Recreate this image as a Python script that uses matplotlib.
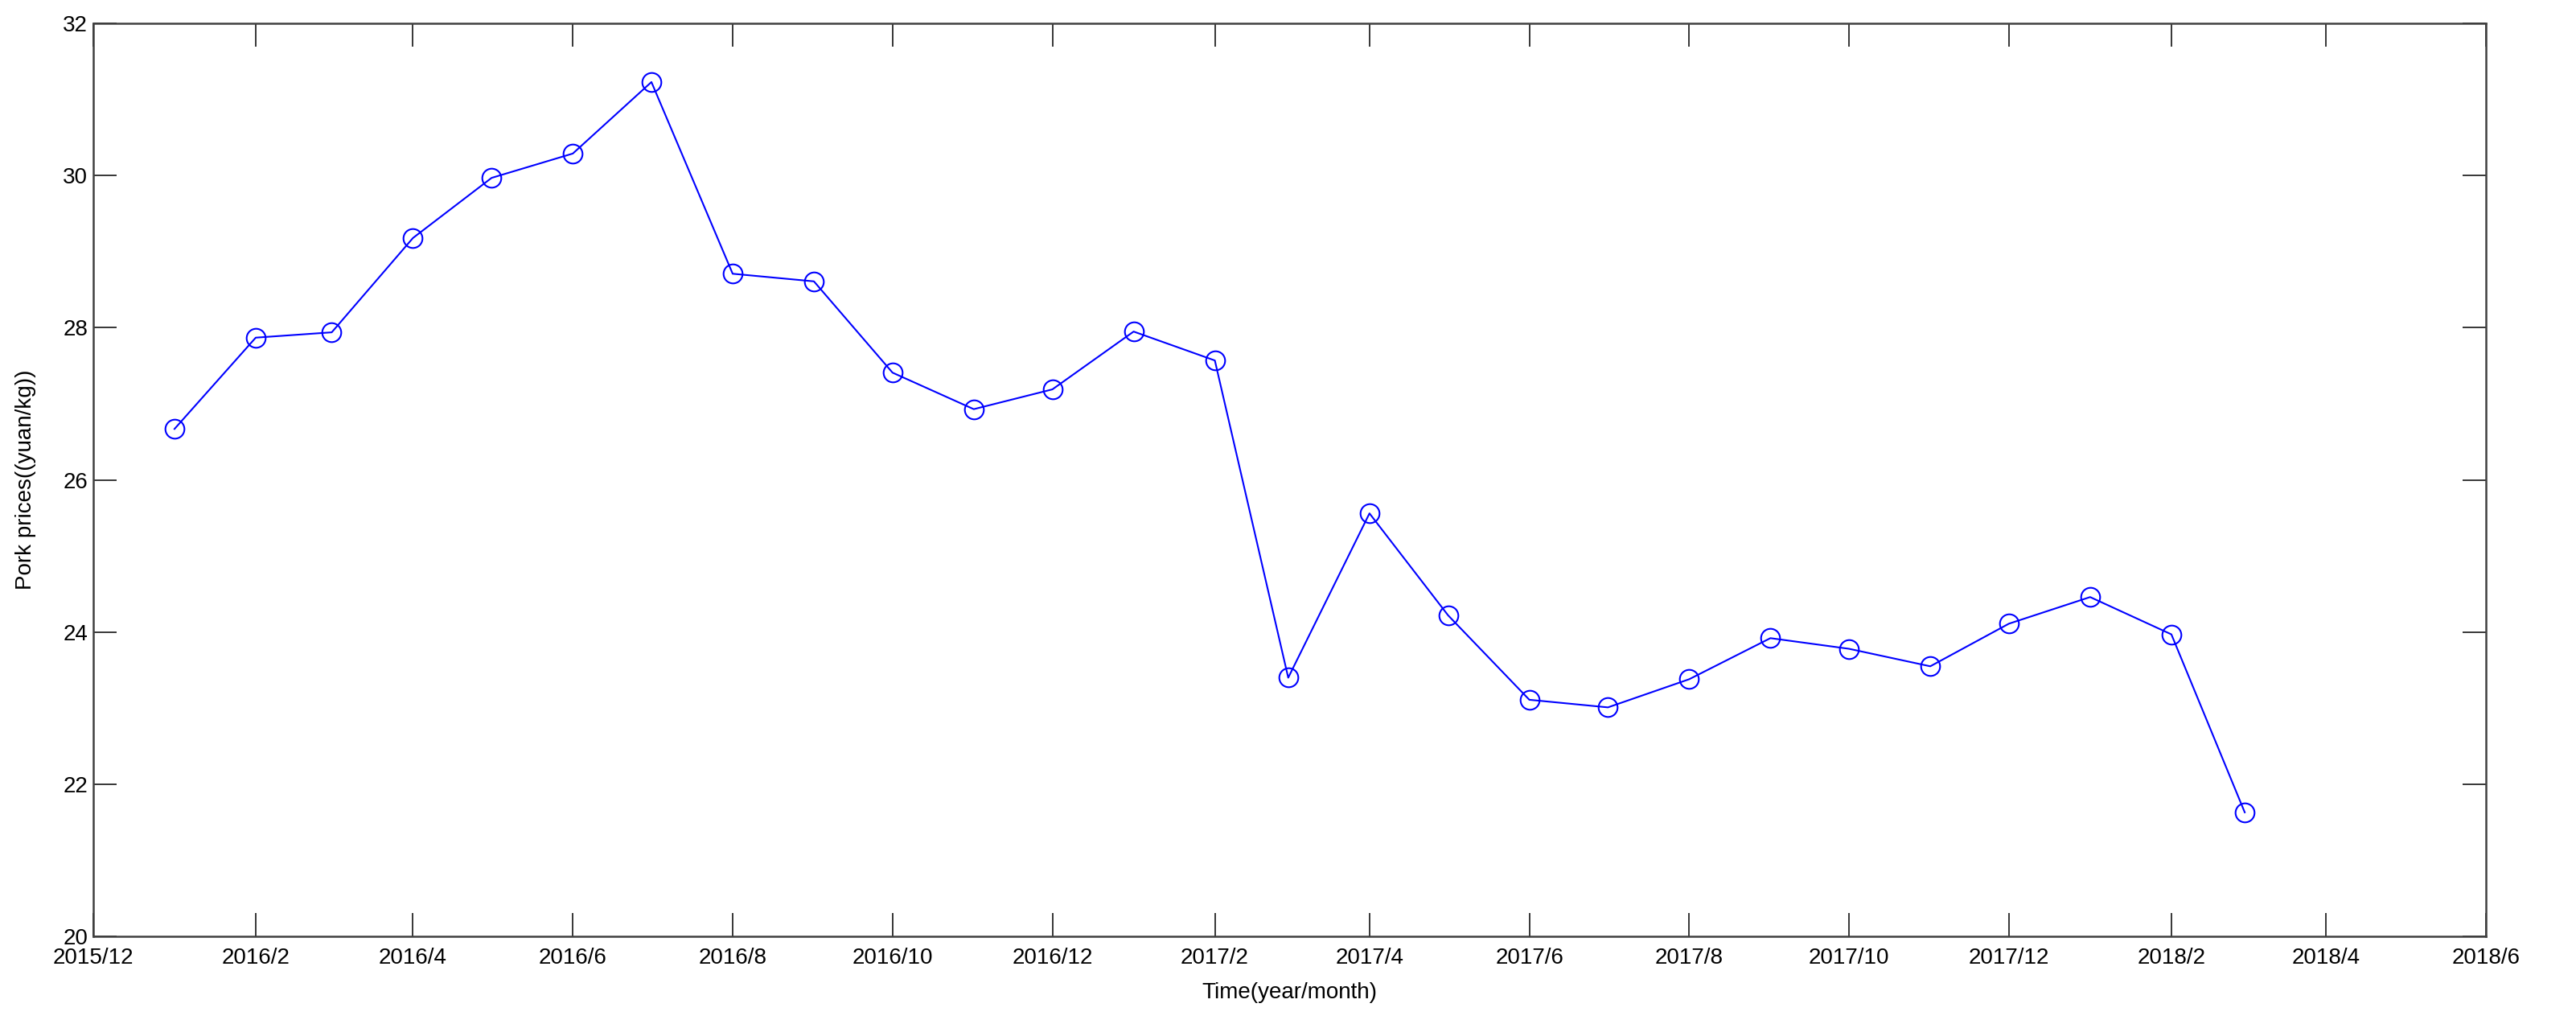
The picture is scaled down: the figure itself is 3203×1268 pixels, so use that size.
import pandas as pd
import matplotlib
matplotlib.use('Agg')
import matplotlib.pyplot as plt

months = pd.date_range('2016-01-01', '2018-03-01', freq='MS')
prices = [26.67, 27.87, 27.94, 29.18, 29.97, 30.29, 31.23, 28.71, 28.61, 27.41,
          26.93, 27.19, 27.95, 27.57, 23.40, 25.56, 24.22, 23.11, 23.01, 23.38,
          23.92, 23.78, 23.55, 24.11, 24.46, 23.97, 21.63]
tick_months = pd.date_range('2015-12-01', '2018-06-01', freq='2MS')
tick_labels = ['%d/%d' % (d.year, d.month) for d in tick_months]
y_ticks = [20, 22, 24, 26, 28, 30, 32]

plt.rcParams['font.family'] = ['Liberation Sans', 'DejaVu Sans']

fig = plt.figure(figsize=(32.03, 12.68), dpi=100)
ax = fig.add_axes([0.0362, 0.082, 0.9288, 0.895])

ax.plot(months, prices, color='#0000ff', linewidth=1.5, marker='o', markersize=17,
        markerfacecolor='none', markeredgecolor='#0000ff', markeredgewidth=1.5)

ax.set_xlim(tick_months[0], tick_months[-1])
ax.set_ylim(20, 32)
ax.set_xticks(tick_months)
ax.set_xticklabels(tick_labels)
ax.set_yticks(y_ticks)

ax.tick_params(direction='in', length=21, width=1.3, color='#262626', labelsize=20,
               top=True, right=True)
ax.tick_params(axis='x', pad=10)
ax.tick_params(axis='y', pad=5)
for spine in ax.spines.values():
    spine.set_color('#404040')
    spine.set_linewidth(1.8)

ax.set_xlabel('Time(year/month)', fontsize=20, labelpad=12)
ax.set_ylabel('Pork prices((yuan/kg))', fontsize=20, labelpad=24)

plt.savefig('out.png', dpi=100)
